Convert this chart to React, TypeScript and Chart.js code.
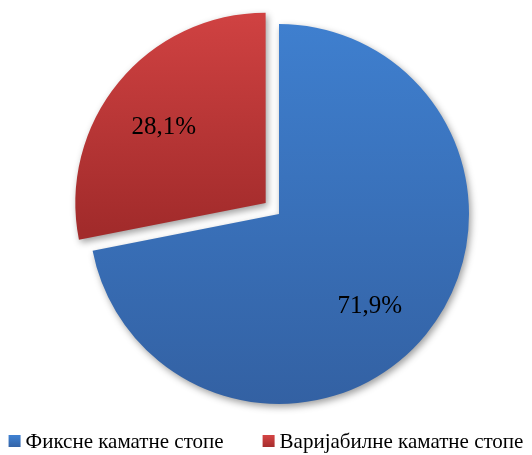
import React, { useEffect, useRef } from "react";
import { Chart, registerables } from "chart.js";

Chart.register(...registerables);

// ---- data ----
const categories = ["Фиксне каматне стопе", "Варијабилне каматне стопе"];
const shares = [71.9, 28.1];
const valueLabels = ["71,9%", "28,1%"];

// ---- styles ----
const topColors = ["#3f80d0", "#d24343"];
const bottomColors = ["#3361a3", "#a22b2b"];
const legendColors = ["#3a72c0", "#c23a3a"];
const gradientEndFrac = [1, 0.14];
const sliceOffsets = [0, 69];
const labelAngleShiftDeg = [6, -3];
const labelRadiusFrac = [0.68, 0.665];
const RADIUS = 190;
const FONT = "'Liberation Serif', 'Times New Roman', serif";

const W = 532;
const H = 455;

const decorPlugin = {
  id: "decor",
  beforeDatasetsDraw(chart: any) {
    const ctx = chart.ctx;
    ctx.save();
    ctx.shadowColor = "rgba(0,0,0,0.38)";
    ctx.shadowBlur = 7;
    ctx.shadowOffsetX = 2;
    ctx.shadowOffsetY = 3;
  },
  afterDatasetsDraw(chart: any) {
    const ctx = chart.ctx;
    ctx.restore();
    const meta = chart.getDatasetMeta(0);
    ctx.save();
    ctx.fillStyle = "#000";
    ctx.font = `25px ${FONT}`;
    ctx.textAlign = "center";
    ctx.textBaseline = "middle";
    meta.data.forEach((el: any, i: number) => {
      const { x, y, startAngle, endAngle, outerRadius } = el;
      const mid = (startAngle + endAngle) / 2;
      const circ = endAngle - startAngle;
      const off = (el.options.offset || 0) / 4;
      const fix = 1 - Math.sin(Math.min(Math.PI, circ || 0));
      const t = off * (1 + fix);
      const cx = x + Math.cos(mid) * t;
      const cy = y + Math.sin(mid) * t;
      const a = mid + (labelAngleShiftDeg[i] * Math.PI) / 180;
      const r = outerRadius * labelRadiusFrac[i];
      ctx.fillText(valueLabels[i], cx + Math.cos(a) * r, cy + Math.sin(a) * r);
    });
    ctx.restore();
  },
  afterDraw(chart: any) {
    const ctx = chart.ctx;
    ctx.save();
    ctx.font = `21px ${FONT}`;
    ctx.textBaseline = "middle";
    ctx.textAlign = "left";
    const box = 12;
    const boxGap = 5;
    const itemGap = 39;
    const widths = categories.map((c) => ctx.measureText(c).width);
    const total =
      widths.reduce((s, w) => s + box + boxGap + w, 0) + itemGap * (categories.length - 1);
    let xPos = (chart.width - total) / 2;
    const yMid = 442;
    categories.forEach((c, i) => {
      const g = ctx.createLinearGradient(0, yMid - box / 2, 0, yMid + box / 2);
      g.addColorStop(0, topColors[i]);
      g.addColorStop(1, bottomColors[i]);
      ctx.fillStyle = g;
      ctx.fillRect(xPos, yMid - box / 2 - 1, box, box);
      ctx.fillStyle = "#000";
      ctx.fillText(c, xPos + box + boxGap, yMid);
      xPos += box + boxGap + widths[i] + itemGap;
    });
    ctx.restore();
  },
};

export default function App() {
  const canvasRef = useRef<HTMLCanvasElement | null>(null);

  useEffect(() => {
    const canvas = canvasRef.current;
    if (!canvas) return;
    const chart = new Chart(canvas, {
      type: "pie",
      data: {
        labels: categories,
        datasets: [
          {
            data: shares,
            borderWidth: 0,
            offset: sliceOffsets,
            hoverOffset: 0,
            radius: RADIUS,
            backgroundColor: (context: any) => {
              const i = context.dataIndex;
              const area = context.chart.chartArea;
              if (!area) return legendColors[i];
              const cy = (area.top + area.bottom) / 2;
              const g = context.chart.ctx.createLinearGradient(
                0,
                cy - RADIUS - 11,
                0,
                cy + RADIUS * gradientEndFrac[i]
              );
              g.addColorStop(0, topColors[i]);
              g.addColorStop(1, bottomColors[i]);
              return g;
            },
          } as any,
        ],
      },
      options: {
        responsive: false,
        animation: false,
        devicePixelRatio: 1,
        layout: { padding: { left: 26, right: 0, top: 0, bottom: 27 } },
        plugins: {
          legend: { display: false },
          tooltip: { enabled: false },
        },
      } as any,
      plugins: [decorPlugin],
    });
    return () => chart.destroy();
  }, []);

  return (
    <div style={{ position: "fixed", left: 0, top: 0, width: W, height: H, background: "#fff" }}>
      <canvas ref={canvasRef} width={W} height={H} style={{ display: "block" }} />
    </div>
  );
}
